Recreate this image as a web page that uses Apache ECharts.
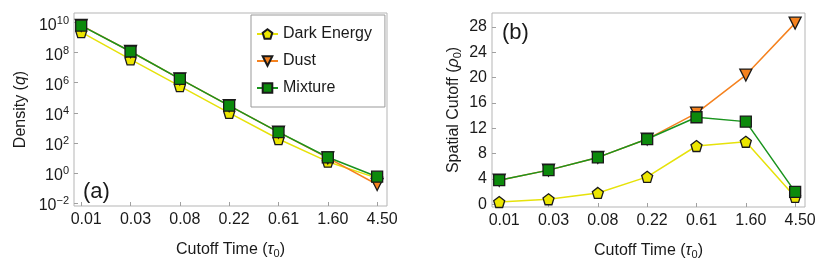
<!DOCTYPE html>
<html>
<head>
<meta charset="utf-8">
<script src="https://cdn.jsdelivr.net/npm/echarts@6/dist/echarts.min.js"></script>
<style>
  html, body { margin: 0; padding: 0; background: #fff; }
  #chart { width: 830px; height: 262px; }
</style>
</head>
<body>
<div id="chart"></div>
<script>
// ---- data ----
var xLabels = ['0.01', '0.03', '0.08', '0.22', '0.61', '1.60', '4.50'];
var seriesNames = ['Dark Energy', 'Dust', 'Mixture'];

// Panel (a): density q (log scale)
var densityDark    = [2.3e9, 3.6e7, 6.0e5, 1.0e4, 1.8e2, 5.6, 0.45];
var densityDust    = [6.6e9, 1.2e8, 1.8e6, 3.0e4, 5.2e2, 10, 0.17];
var densityMixture = [6.3e9, 1.2e8, 1.8e6, 3.0e4, 5.2e2, 11, 0.56];

// Panel (b): spatial cutoff rho0
var cutoffDark    = [0.36, 0.79, 1.79, 4.33, 9.2, 9.87, 1.16];
var cutoffDust    = [3.8, 5.39, 7.4, 10.3, 14.4, 20.4, 28.6];
var cutoffMixture = [3.8, 5.39, 7.4, 10.3, 13.74, 13.05, 1.95];

var densityTicks = [0.01, 1, 100, 1e4, 1e6, 1e8, 1e10];
var cutoffTicks = [0, 4, 8, 12, 16, 20, 24, 28];
var xTickIdx = xLabels.map(function (_, i) { return i; });

// ---- styles ----
var FONT = 'Liberation Sans, Arial, Helvetica, sans-serif';
var FRAME = '#b5b5b5';
var TICK = '#a0a0a0';
var colors = {
  dark: { line: '#e6e20a', fill: '#ece600' },
  dust: { line: '#f5821f', fill: '#f5821f' },
  mix:  { line: '#1a941e', fill: '#0c8a0c' }
};
var pentagon = 'path://M0,-1 L0.951,-0.309 L0.588,0.809 L-0.588,0.809 L-0.951,-0.309 Z';

function pairs(arr) { return arr.map(function (v, i) { return [i, v]; }); }

function mkSeries(name, data, xi, yi, c, symbol, size, rotate, z) {
  return {
    name: name, type: 'line', xAxisIndex: xi, yAxisIndex: yi,
    data: pairs(data), symbol: symbol, symbolSize: size, symbolRotate: rotate || 0,
    showAllSymbol: true, z: z,
    lineStyle: { color: c.line, width: 1.5 },
    itemStyle: { color: c.fill, borderColor: '#1a1a1a', borderWidth: 1.3 },
    emphasis: { disabled: true },
    animation: false
  };
}

function xAxisCfg(gi) {
  return {
    type: 'value', gridIndex: gi, min: -0.146, max: 6.2, position: 'bottom',
    axisLine: { show: false, onZero: false }, splitLine: { show: false }, minorTick: { show: false },
    axisTick: { show: true, inside: true, length: 4, lineStyle: { color: TICK }, customValues: xTickIdx },
    axisLabel: {
      customValues: xTickIdx, color: '#1a1a1a', fontSize: 16, fontFamily: FONT, margin: 6,
      padding: [0, 0, 0, 10],
      formatter: function (v) { var i = Math.round(v); return xLabels[i] || ''; }
    },
    name: 'Cutoff Time ({i|τ}{sub|0})', nameLocation: 'middle', nameGap: 34,
    nameTextStyle: {
      color: '#1a1a1a', fontSize: 16, fontFamily: FONT,
      rich: {
        i: { fontSize: 16, fontStyle: 'italic', fontFamily: FONT, color: '#1a1a1a' },
        sub: { fontSize: 11, fontFamily: FONT, color: '#1a1a1a', padding: [8, 0, 0, 0] }
      }
    }
  };
}

var option = {
  animation: false,
  textStyle: { fontFamily: FONT },
  grid: [
    { left: 74, top: 13, width: 313, height: 193, show: true, borderColor: FRAME, borderWidth: 1, containLabel: false, outerBoundsMode: 'none' },
    { left: 492, top: 13, width: 313, height: 194, show: true, borderColor: FRAME, borderWidth: 1, containLabel: false, outerBoundsMode: 'none' }
  ],
  xAxis: [xAxisCfg(0), xAxisCfg(1)],
  yAxis: [
    {
      type: 'log', logBase: 10, gridIndex: 0, position: 'left',
      min: Math.pow(10, -2.2), max: Math.pow(10, 10.64),
      axisLine: { show: false, onZero: false }, splitLine: { show: false }, minorTick: { show: false },
      axisTick: { show: true, inside: true, length: 4, lineStyle: { color: TICK }, customValues: densityTicks },
      axisLabel: {
        customValues: densityTicks, color: '#1a1a1a', fontFamily: FONT, margin: 5,
        padding: [6, 0, 0, 0],
        formatter: function (v) {
          var e = Math.round(Math.log(v) / Math.LN10);
          var s = e < 0 ? '\u2212' + (-e) : String(e);
          return '{b|10}{s|' + s + '}';
        },
        rich: {
          b: { fontSize: 16, fontFamily: FONT, color: '#1a1a1a' },
          s: { fontSize: 11, fontFamily: FONT, color: '#1a1a1a', padding: [0, 0, 10, 0] }
        }
      },
      name: 'Density ({i|q})', nameLocation: 'middle', nameGap: 45,
      nameTextStyle: {
        color: '#1a1a1a', fontSize: 16, fontFamily: FONT,
        rich: { i: { fontSize: 16, fontStyle: 'italic', fontFamily: FONT, color: '#1a1a1a' } }
      }
    },
    {
      type: 'value', gridIndex: 1, min: -0.43, max: 30.2, position: 'left',
      axisLine: { show: false, onZero: false }, splitLine: { show: false }, minorTick: { show: false },
      axisTick: { show: true, inside: true, length: 4, lineStyle: { color: TICK }, customValues: cutoffTicks },
      axisLabel: { customValues: cutoffTicks, color: '#1a1a1a', fontSize: 16, fontFamily: FONT, margin: 5 },
      name: 'Spatial Cutoff ({i|ρ}{sub|0})', nameLocation: 'middle', nameGap: 29,
      nameTextStyle: {
        color: '#1a1a1a', fontSize: 16, fontFamily: FONT,
        rich: {
          i: { fontSize: 16, fontStyle: 'italic', fontFamily: FONT, color: '#1a1a1a' },
          sub: { fontSize: 11, fontFamily: FONT, color: '#1a1a1a', padding: [8, 0, 0, 0] }
        }
      }
    }
  ],
  legend: {
    orient: 'vertical', left: 251, top: 15,
    padding: [11, 13, 11, 5], itemGap: 11, itemWidth: 21, itemHeight: 12,
    borderColor: '#999', borderWidth: 1, backgroundColor: '#fff',
    textStyle: { fontSize: 16, fontFamily: FONT, color: '#1a1a1a' },
    data: seriesNames, selectedMode: false
  },
  graphic: [
    { type: 'text', left: 83, top: 181, style: { text: '(a)', fontSize: 22, fontFamily: FONT, fill: '#1a1a1a' } },
    { type: 'text', left: 502, top: 22, style: { text: '(b)', fontSize: 22, fontFamily: FONT, fill: '#1a1a1a' } }
  ],
  series: [
    mkSeries(seriesNames[0], densityDark, 0, 0, colors.dark, pentagon, 11, 0, 2),
    mkSeries(seriesNames[1], densityDust, 0, 0, colors.dust, 'triangle', 12, 180, 3),
    mkSeries(seriesNames[2], densityMixture, 0, 0, colors.mix, 'rect', 11, 0, 4),
    mkSeries(seriesNames[0], cutoffDark, 1, 1, colors.dark, pentagon, 11, 0, 2),
    mkSeries(seriesNames[1], cutoffDust, 1, 1, colors.dust, 'triangle', 12, 180, 3),
    mkSeries(seriesNames[2], cutoffMixture, 1, 1, colors.mix, 'rect', 11, 0, 4)
  ]
};

var chart = echarts.init(document.getElementById('chart'), null, { renderer: 'canvas' });
chart.setOption(option);
</script>
</body>
</html>
